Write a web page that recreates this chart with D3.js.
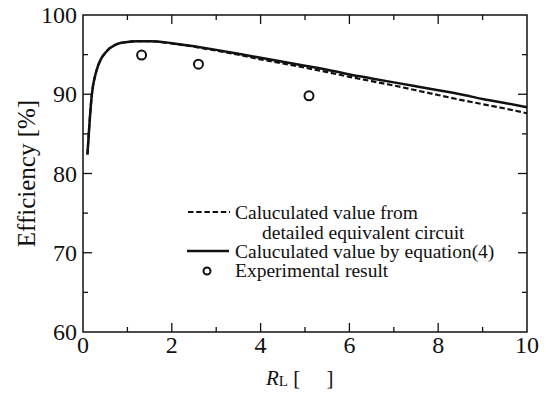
<!DOCTYPE html>
<meta charset="utf-8">
<style>
    body { margin: 0; background: #fff; }
    svg { display: block; }
    text { font-family: "Liberation Serif", "Times New Roman", serif; fill: #111; }
</style>

<script src="https://d3js.org/d3.v7.min.js"></script>

<svg id="chart" width="548" height="394"></svg>

<script>

// Data

var rL = [0.1, 0.2, 0.3, 0.4, 0.5, 0.6, 0.7, 0.8, 1.0, 1.2, 1.5, 2, 2.5, 3, 3.5, 4,
          4.5, 5, 5.5, 6, 6.5, 7, 7.5, 8, 8.5, 9, 9.5, 10];

// efficiency from equation (4), solid line
var effEquation = [82.4, 90.0, 92.9, 94.4, 95.2, 95.8, 96.15, 96.4, 96.6, 96.7, 96.7, 96.45,
                   96.05, 95.6, 95.1, 94.6, 94.1, 93.6, 93.1, 92.5, 92.0, 91.5, 91.0, 90.5,
                   90.0, 89.4, 88.9, 88.35];

// efficiency from detailed equivalent circuit, dashed line
var effDetailed = [82.4, 90.0, 92.9, 94.4, 95.2, 95.8, 96.15, 96.4, 96.6, 96.7, 96.7, 96.4,
                   96.0, 95.5, 95.0, 94.4, 93.9, 93.35, 92.8, 92.2, 91.65, 91.1, 90.5, 89.9,
                   89.3, 88.75, 88.2, 87.6];

var rExp = [1.32, 2.6, 5.09];
var effExp = [94.95, 93.8, 89.8];

var xTicks = [0, 2, 4, 6, 8, 10];
var yTicks = [60, 70, 80, 90, 100];

var legendLines = ['Caluculated value from', 'detailed equivalent circuit',
                   'Caluculated value by equation(4)', 'Experimental result'];


// Setup

var svg = d3.select('svg#chart');

var plotL = 83, plotR = 527, plotT = 15, plotB = 332;

var x = d3.scaleLinear().domain([0, 10]).range([plotL, plotR]);
var y = d3.scaleLinear().domain([60, 100]).range([plotB, plotT]);

var majorLen = 9, minorLen = 5;

// ticks, drawn inward on all four sides
var xMinor = d3.range(1, 10, 2);
var yMinor = d3.range(65, 100, 10);

var tickG = svg.append('g')
    .attr('stroke', '#111')
    .attr('stroke-width', 1.3);

function hTicks(vals, len) {
    vals.forEach(function (v) {
        tickG.append('line').attr('x1', x(v)).attr('x2', x(v)).attr('y1', plotB).attr('y2', plotB - len);
        tickG.append('line').attr('x1', x(v)).attr('x2', x(v)).attr('y1', plotT).attr('y2', plotT + len);
    });
}
function vTicks(vals, len) {
    vals.forEach(function (v) {
        tickG.append('line').attr('y1', y(v)).attr('y2', y(v)).attr('x1', plotL).attr('x2', plotL + len);
        tickG.append('line').attr('y1', y(v)).attr('y2', y(v)).attr('x1', plotR).attr('x2', plotR - len);
    });
}
hTicks(xTicks.slice(1, -1), majorLen);
hTicks(xMinor, minorLen);
vTicks(yTicks.slice(1, -1), majorLen);
vTicks(yMinor, minorLen);

// frame
svg.append('rect')
    .attr('x', plotL).attr('y', plotT)
    .attr('width', plotR - plotL).attr('height', plotB - plotT)
    .attr('fill', 'none')
    .attr('stroke', '#111')
    .attr('stroke-width', 1.5);

// tick labels
svg.selectAll('text.xt')
    .data(xTicks)
    .enter().append('text')
    .attr('class', 'xt')
    .attr('x', function (d) { return x(d); })
    .attr('y', plotB + 21)
    .attr('text-anchor', 'middle')
    .attr('font-size', 24)
    .text(function (d) { return d; });

svg.selectAll('text.yt')
    .data(yTicks)
    .enter().append('text')
    .attr('class', 'yt')
    .attr('x', plotL - 6)
    .attr('y', function (d) { return y(d) + 8; })
    .attr('text-anchor', 'end')
    .attr('font-size', 24)
    .text(function (d) { return d; });

// axis titles
svg.append('text')
    .attr('transform', 'translate(35,' + ((plotT + plotB) / 2) + ') rotate(-90)')
    .attr('text-anchor', 'middle')
    .attr('font-size', 25)
    .text('Efficiency [%]');

var xt = svg.append('text')
    .attr('x', 266)
    .attr('y', 385)
    .attr('font-size', 21)
    .attr('xml:space', 'preserve')
    .style('white-space', 'pre');
xt.append('tspan').attr('font-style', 'italic').text('R');
xt.append('tspan').attr('font-size', 15).attr('dy', 1).text('L');
xt.append('tspan').attr('dy', -1).text(' [     ]');

// curves
var line = d3.line()
    .x(function (d) { return x(d[0]); })
    .y(function (d) { return y(d[1]); })
    .curve(d3.curveMonotoneX);

svg.append('path')
    .attr('d', line(d3.zip(rL, effDetailed)))
    .attr('fill', 'none')
    .attr('stroke', '#111')
    .attr('stroke-width', 2.2)
    .attr('stroke-dasharray', '5.5,2.7');

svg.append('path')
    .attr('d', line(d3.zip(rL, effEquation)))
    .attr('fill', 'none')
    .attr('stroke', '#111')
    .attr('stroke-width', 2.5);

svg.selectAll('circle.exp')
    .data(d3.zip(rExp, effExp))
    .enter().append('circle')
    .attr('class', 'exp')
    .attr('cx', function (d) { return x(d[0]); })
    .attr('cy', function (d) { return y(d[1]); })
    .attr('r', 4.5)
    .attr('fill', 'none')
    .attr('stroke', '#111')
    .attr('stroke-width', 2);

// legend
var lg = svg.append('g');
var baselines = [219, 239, 258, 277];
var textX = [235, 262, 235, 235];

legendLines.forEach(function (s, i) {
    lg.append('text')
        .attr('x', textX[i])
        .attr('y', baselines[i])
        .attr('font-size', 19.5)
        .text(s);
});

lg.append('line')
    .attr('x1', 188).attr('x2', 230)
    .attr('y1', 212).attr('y2', 212)
    .attr('stroke', '#111').attr('stroke-width', 2)
    .attr('stroke-dasharray', '5.5,2.7');

lg.append('line')
    .attr('x1', 187).attr('x2', 229)
    .attr('y1', 251).attr('y2', 251)
    .attr('stroke', '#111').attr('stroke-width', 2.4);

lg.append('circle')
    .attr('cx', 207).attr('cy', 271).attr('r', 3.5)
    .attr('fill', 'none').attr('stroke', '#111').attr('stroke-width', 2);

</script>
